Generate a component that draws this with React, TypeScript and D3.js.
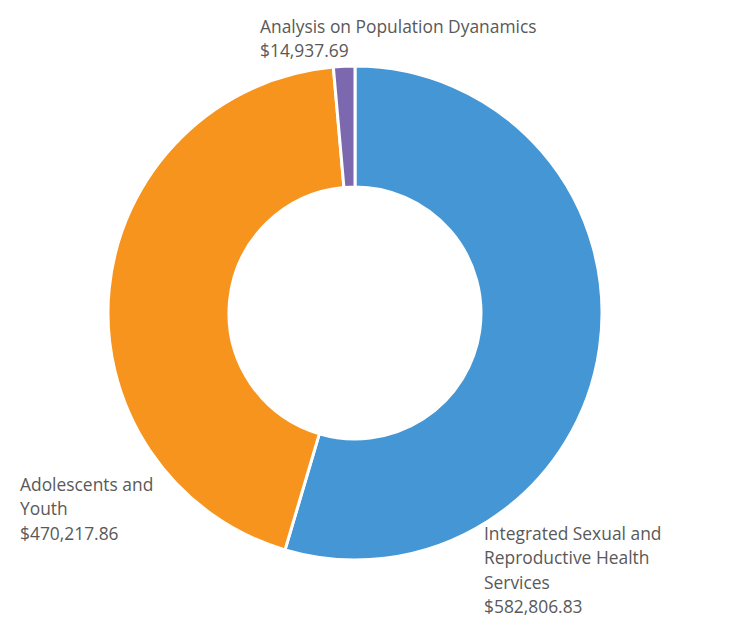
import React from "react";
import * as d3 from "d3";

const categories = [
  "Integrated Sexual and Reproductive Health Services",
  "Adolescents and Youth",
  "Analysis on Population Dyanamics",
];
const values = [582806.83, 470217.86, 14937.69];
const valueLabels = ["$582,806.83", "$470,217.86", "$14,937.69"];
const labelLines = [
  ["Integrated Sexual and", "Reproductive Health", "Services"],
  ["Adolescents and", "Youth"],
  ["Analysis on Population Dyanamics"],
];
const colors = ["#4596d4", "#f7941e", "#7b68ae"];

const W = 741, H = 618;
const cx = 355, cy = 313, R = 247, r = 126;
const labelPos = [
  { x: 484, y: 540 },
  { x: 20, y: 491 },
  { x: 260, y: 33 },
];
const lineH = 24.3;

export default function App() {
  const pie = d3.pie<number>().sort(null).value((d) => d)(values);
  const arc = d3.arc<d3.PieArcDatum<number>>().innerRadius(r).outerRadius(R);
  return (
    <svg width={W} height={H} style={{ position: "absolute", left: 0, top: 0, background: "#fff" }}>
      <g transform={`translate(${cx},${cy})`}>
        {pie.map((p, i) => (
          <path key={categories[i]} d={arc(p) || ""} fill={colors[i]} stroke="#fff" strokeWidth={3} />
        ))}
      </g>
      {labelLines.map((lines, i) => (
        <text key={i} fill="#595959" fontFamily="'Open Sans', sans-serif" fontSize={17.4}>
          {[...lines, valueLabels[i]].map((t, j) => (
            <tspan key={j} x={labelPos[i].x} y={labelPos[i].y + j * lineH}>{t}</tspan>
          ))}
        </text>
      ))}
    </svg>
  );
}
